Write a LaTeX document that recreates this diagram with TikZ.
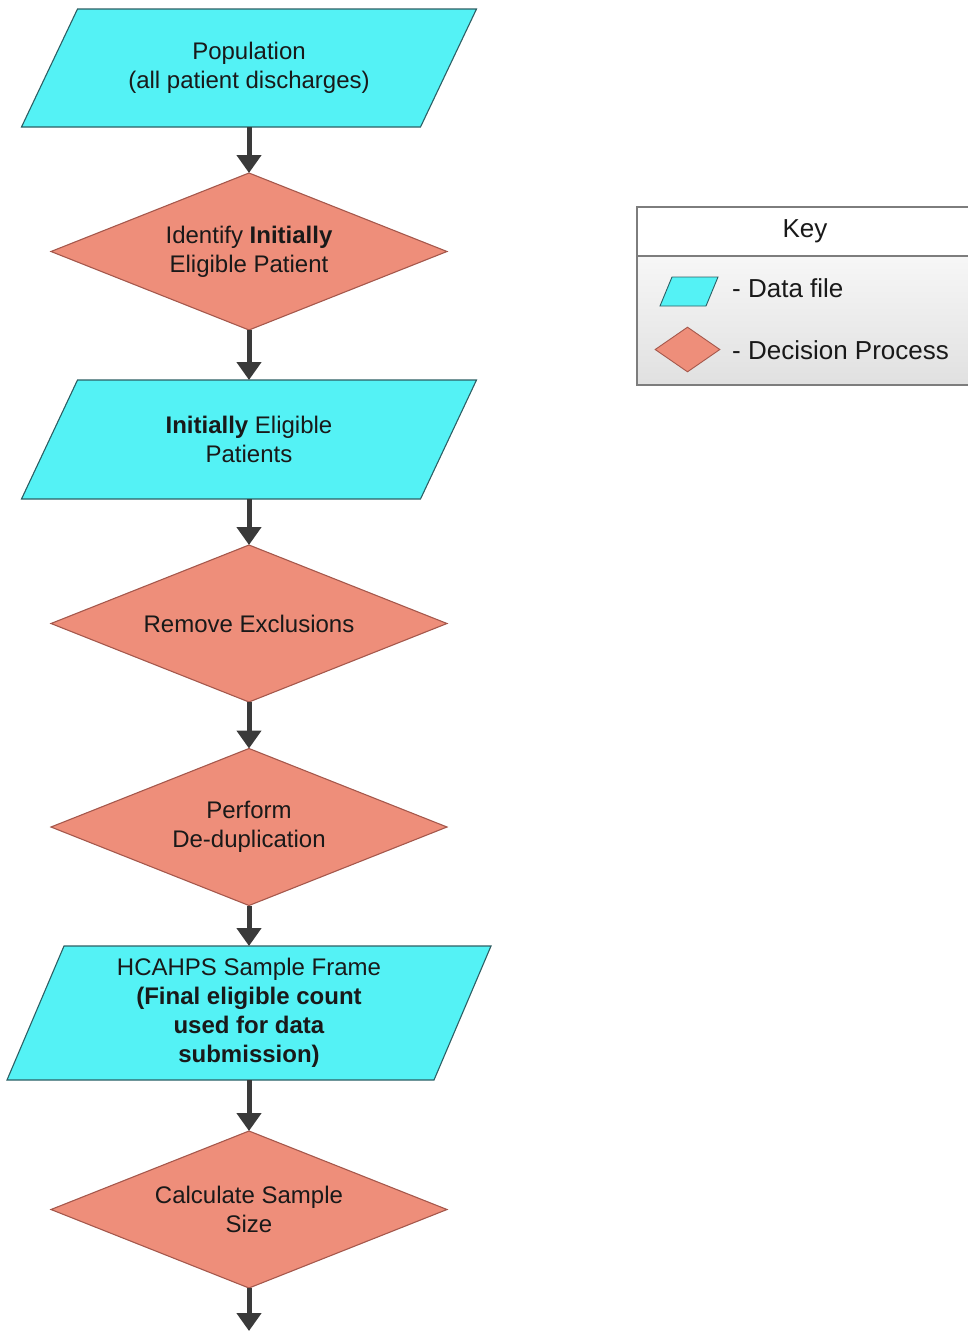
\documentclass[tikz,border=0pt]{standalone}
\usepackage{fontspec}
\setmainfont{Liberation Sans}
\usetikzlibrary{shapes.geometric,arrows.meta,calc,backgrounds}
\definecolor{datacol}{RGB}{84,242,245}
\definecolor{dataline}{RGB}{45,95,100}
\definecolor{deccol}{RGB}{238,142,122}
\definecolor{decline}{RGB}{165,88,76}
\definecolor{arrcol}{RGB}{58,58,58}
\definecolor{txtcol}{RGB}{25,25,25}
\definecolor{keyline}{RGB}{125,125,125}
\tikzset{
  txt/.style={text=txtcol, font=\fontsize{24}{29}\selectfont, align=center},
  datanode/.style={txt, rectangle, draw=none, inner sep=0pt, outer sep=0pt},
  datashape/.style={fill=datacol, draw=dataline, line width=1.1pt, line join=miter},
  decnode/.style={txt, diamond, fill=deccol, draw=decline, line width=1.1pt, inner sep=0pt, outer sep=0pt, aspect=2.52, minimum width=396pt, minimum height=157pt},
  flow/.style={draw=arrcol, line width=5pt, -{Triangle[length=18pt,width=24pt]}, shorten >=0pt},
  keytxt/.style={text=txtcol, font=\fontsize{26}{30}\selectfont, inner sep=0pt, anchor=west},
}
\begin{document}
\begin{tikzpicture}[x=1pt,y=-1pt]
\useasboundingbox (0,0) rectangle (967,1331);

% --- data nodes (parallelograms)
\node[datanode, minimum width=399pt, minimum height=118pt] (p1) at (249,68) {Population\\(all patient discharges)};
\node[datanode, minimum width=399pt, minimum height=119pt] (p2) at (249,439.5) {\textbf{Initially} Eligible\\Patients};
\node[datanode, minimum width=427pt, minimum height=134pt] (p3) at (249,1013) {HCAHPS Sample Frame\\\textbf{(Final eligible count}\\\textbf{used for data}\\\textbf{submission)}};
\begin{scope}[on background layer]
  \draw[datashape] ($(p1.north west)+(28,0)$) -- ($(p1.north east)+(28,0)$) -- ($(p1.south east)+(-28,0)$) -- ($(p1.south west)+(-28,0)$) -- cycle;
  \draw[datashape] ($(p2.north west)+(28,0)$) -- ($(p2.north east)+(28,0)$) -- ($(p2.south east)+(-28,0)$) -- ($(p2.south west)+(-28,0)$) -- cycle;
  \draw[datashape] ($(p3.north west)+(28.5,0)$) -- ($(p3.north east)+(28.5,0)$) -- ($(p3.south east)+(-28.5,0)$) -- ($(p3.south west)+(-28.5,0)$) -- cycle;
\end{scope}

% --- decision nodes (diamonds)
\node[decnode] (d1) at (249,251.5) {Identify \textbf{Initially}\\Eligible Patient};
\node[decnode] (d2) at (249,623.5) {Remove Exclusions};
\node[decnode] (d3) at (249,827) {Perform\\De-duplication};
\node[decnode] (d4) at (249,1209.5) {Calculate Sample\\Size};
\coordinate (end) at (249,1331);

% --- connectors
\draw[flow] (p1.south) -- (d1.north);
\draw[flow] (d1.south) -- (p2.north);
\draw[flow] (p2.south) -- (d2.north);
\draw[flow] (d2.south) -- (d3.north);
\draw[flow] (d3.south) -- (p3.north);
\draw[flow] (p3.south) -- (d4.north);
\draw[flow] (d4.south) -- (end);

% --- key
\node[rectangle, draw=keyline, line width=1.2pt, minimum width=345pt, minimum height=178pt, inner sep=0pt, outer sep=0pt,
      top color=white, bottom color=black!12, anchor=north west] (keybox) at (637,207) {};
\fill[white] ([xshift=0.6pt,yshift=-0.6pt]keybox.north west) rectangle ([xshift=-0.6pt]keybox.north east |- 0,256);
\draw[keyline, line width=1.2pt] (keybox.west |- 0,256) -- (keybox.east |- 0,256);
\draw[keyline, line width=1.2pt] (keybox.north west) -- (keybox.north east);
\node[text=txtcol, font=\fontsize{26}{30}\selectfont, inner sep=0pt] (keytitle) at (805,231) {Key};
\draw[datashape, line width=0.9pt] (672,277) -- (718,277) -- (706,306) -- (660,306) -- cycle;
\node[diamond, fill=deccol, draw=decline, line width=0.9pt, inner sep=0pt, aspect=1.44, minimum width=65pt, minimum height=45pt] (keydec) at (687.5,349.5) {};
\node[keytxt] (keydata) at (732,288) {- Data file};
\node[keytxt] (keydecl) at (732,350) {- Decision Process};
\end{tikzpicture}
\end{document}
